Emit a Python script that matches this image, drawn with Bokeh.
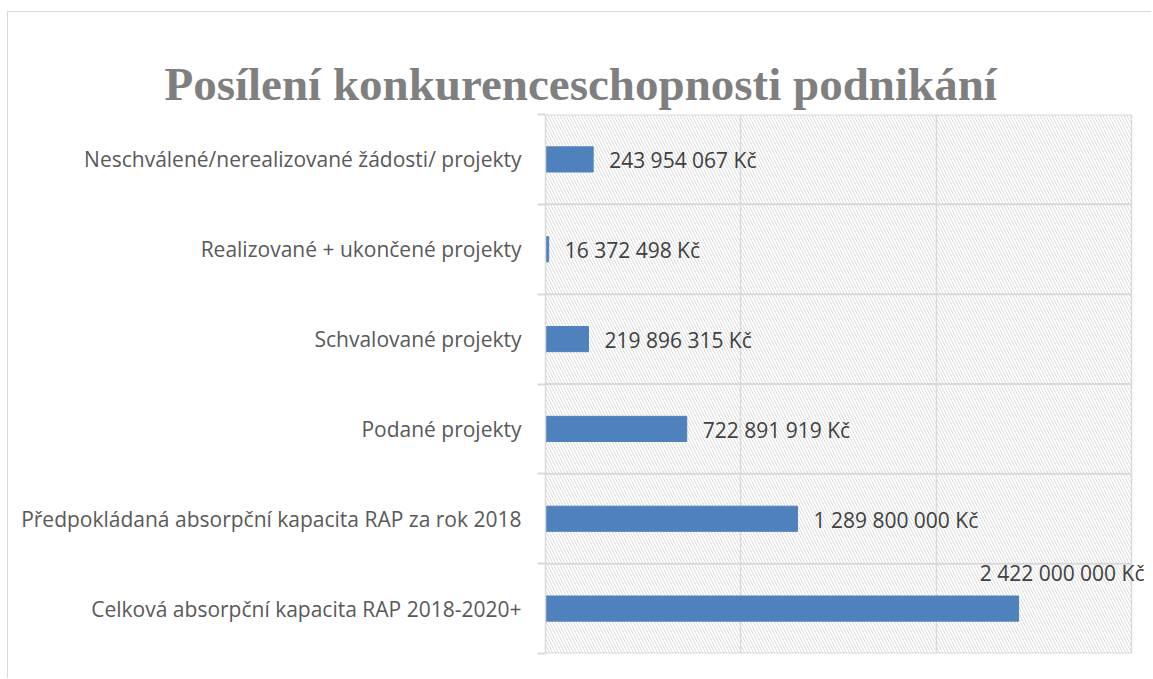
from bokeh.plotting import figure
from bokeh.models import (FixedTicker, ColumnDataSource, LabelSet, BoxAnnotation,
                          Range1d, Label)
from bokeh.core.properties import value
from bokeh.embed import file_html
from bokeh.resources import INLINE

# Data (bottom to top)
categories = [
    "Celková absorpční kapacita RAP 2018-2020+",
    "Předpokládaná absorpční kapacita RAP za rok 2018",
    "Podané projekty",
    "Schvalované projekty",
    "Realizované + ukončené projekty",
    "Neschválené/nerealizované žádosti/ projekty",
]
values = [2422000000, 1289800000, 722891919, 219896315, 16372498, 243954067]
x_ticks = [0, 1000000000, 2000000000, 3000000000]

def fmt(v):
    return f"{v:,}".replace(",", " ") + " Kč"

n = len(categories)
ypos = [i + 0.5 for i in range(n)]
labels = [fmt(v) for v in values]
x_max = x_ticks[-1]
# extra room right of the value axis so the top data label can overhang the plot area
x_end = x_max * 604 / 586

src = ColumnDataSource(dict(y=ypos, v=values, lab=labels))
src_small = ColumnDataSource(dict(y=ypos[1:], v=values[1:], lab=labels[1:]))
bounds = list(range(0, n + 1))
seg_src = ColumnDataSource(dict(y=bounds, x0=[0] * len(bounds), x1=[x_max] * len(bounds)))

FONT = "Open Sans"

p = figure(width=1144, height=667, x_range=Range1d(0, x_end), y_range=Range1d(0, n),
           output_backend="svg", toolbar_location=None,
           min_border_left=537, min_border_right=3, min_border_top=102, min_border_bottom=26,
           title="Posílení konkurenceschopnosti podnikání",
           styles={"border-left": "1px solid #d9d9d9", "border-top": "1px solid #d9d9d9",
                   "margin-top": "11px", "margin-left": "7px"})

p.title.text_font = "Liberation Serif"
p.title.text_font_style = "bold"
p.title.text_font_size = "47px"
p.title.text_color = "#7f7f7f"
p.title.align = "left"
p.title.offset = -381
p.title.standoff = 10

p.background_fill_color = "white"
p.border_fill_color = "white"
p.outline_line_color = None

hatch = BoxAnnotation(left=0, right=x_max, bottom=0, top=n,
                      fill_alpha=0, fill_color=None, line_color=None,
                      hatch_pattern="left_diagonal_line", hatch_color="#dcdcdc",
                      hatch_scale=6, hatch_weight=1, level="underlay")
p.add_layout(hatch)

p.segment(x0="x0", x1="x1", y0="y", y1="y", source=seg_src,
          line_color="#d9d9d9", line_width=2)

p.hbar(y="y", right="v", left=0, height=0.28, color="#4f81bd", source=src)

p.xaxis.visible = False
p.xgrid.ticker = FixedTicker(ticks=x_ticks)
p.xgrid.grid_line_color = "#d9d9d9"
p.xgrid.grid_line_width = 1.5
p.ygrid.visible = False

ax = p.yaxis[0]
ax.ticker = FixedTicker(ticks=ypos, minor_ticks=bounds)
ax.major_label_overrides = {y: c for y, c in zip(ypos, categories)}
ax.axis_line_color = "#d9d9d9"
ax.axis_line_width = 1.5
ax.major_tick_line_color = None
ax.major_tick_out = 0
ax.major_tick_in = 0
ax.minor_tick_line_color = "#d9d9d9"
ax.minor_tick_line_width = 2
ax.minor_tick_out = 8
ax.minor_tick_in = 0
ax.major_label_standoff = 16
ax.major_label_text_font = FONT
ax.major_label_text_font_size = "21px"
ax.major_label_text_color = "#595959"

ls = LabelSet(x="v", y="y", text="lab", source=src_small, x_offset=16, y_offset=-1,
              text_font=value(FONT), text_font_size=value("21px"), text_color=value("#404040"),
              text_baseline="middle", text_align="left")
p.add_layout(ls)

big = Label(x=x_max, y=ypos[0], text=labels[0], x_offset=13, y_offset=36,
            text_font=FONT, text_font_size="21px", text_color="#404040",
            text_baseline="middle", text_align="right")
p.add_layout(big)

open("out.html", "w").write(file_html(p, INLINE))
